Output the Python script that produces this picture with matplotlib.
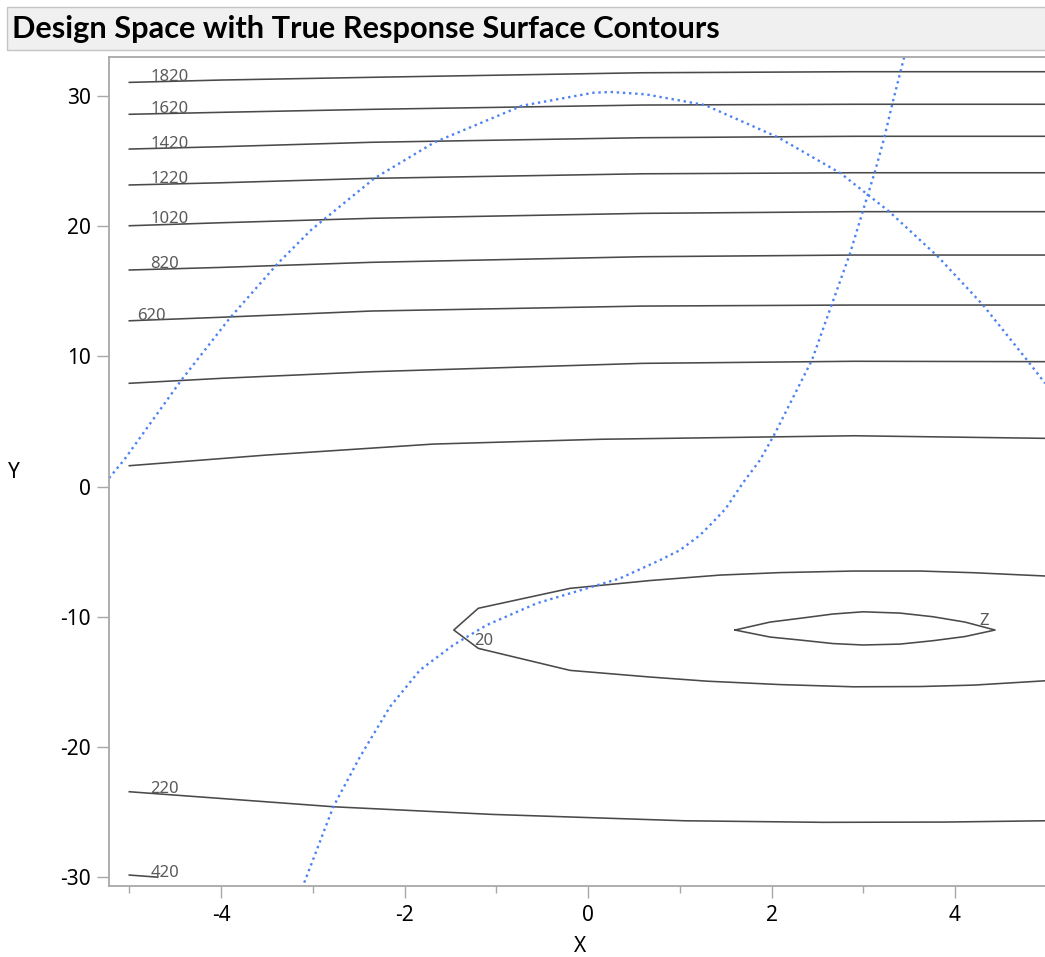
import matplotlib
matplotlib.use("Agg")
import matplotlib.pyplot as plt
from matplotlib.patches import Rectangle
from matplotlib.ticker import FixedLocator

plt.rcParams['font.family'] = ['Noto Sans', 'DejaVu Sans']
plt.rcParams['axes.unicode_minus'] = False

# ---------------- data ----------------
title = "Design Space with True Response Surface Contours"

# near-horizontal contour lines (x, y) per level
c1820_x = [-5.0, -4.0, -2.36, 0.59, 2.9, 5.0]
c1820_y = [31.04, 31.22, 31.43, 31.78, 31.86, 31.86]
c1620_x = [-5.0, -4.0, -2.36, 0.59, 2.9, 5.0]
c1620_y = [28.59, 28.74, 28.97, 29.30, 29.36, 29.36]
c1420_x = [-5.0, -4.0, -2.36, 0.59, 2.9, 5.0]
c1420_y = [25.92, 26.10, 26.44, 26.79, 26.90, 26.90]
c1220_x = [-5.0, -4.0, -2.36, 0.59, 2.9, 5.0]
c1220_y = [23.16, 23.33, 23.67, 24.02, 24.10, 24.10]
c1020_x = [-5.0, -4.0, -2.36, 0.59, 2.9, 5.0]
c1020_y = [20.03, 20.26, 20.60, 20.98, 21.11, 21.11]
c820_x = [-5.0, -4.0, -2.36, 0.59, 2.9, 5.0]
c820_y = [16.63, 16.83, 17.22, 17.65, 17.78, 17.78]
c620_x = [-5.0, -4.0, -2.36, 0.59, 2.9, 5.0]
c620_y = [12.73, 13.00, 13.48, 13.86, 13.94, 13.94]
c420_x = [-5.0, -4.0, -2.36, 0.59, 2.9, 5.0]
c420_y = [7.93, 8.31, 8.82, 9.46, 9.62, 9.59]
c220u_x = [-5.0, -3.5, -1.69, 0.13, 2.9, 5.0]
c220u_y = [1.60, 2.42, 3.26, 3.63, 3.90, 3.70]
c220l_x = [-5.0, -2.76, -1.05, 1.05, 2.56, 3.88, 4.98]
c220l_y = [-23.44, -24.60, -25.18, -25.67, -25.79, -25.77, -25.67]
c420l_x = [-5.0, -4.69]
c420l_y = [-29.84, -30.0]

# contour 20 (open at the right edge)
c20_x = [4.98, 4.207, 3.619, 2.894, 2.093, 1.439, 0.676, -0.196, -1.196, -1.463,
         -1.196, -0.196, 0.676, 1.30, 2.093, 2.894, 3.619, 4.207, 4.98]
c20_y = [-6.87, -6.62, -6.49, -6.49, -6.61, -6.80, -7.22, -7.82, -9.35, -11.02,
         -12.43, -14.12, -14.63, -14.95, -15.21, -15.38, -15.36, -15.25, -14.92]

# inner closed contour
cin_x = [1.602, 1.984, 2.311, 2.670, 2.997, 3.401, 3.760, 4.109, 4.436,
         4.109, 3.760, 3.401, 2.997, 2.670, 2.311, 1.984, 1.602]
cin_y = [-11.02, -10.41, -10.12, -9.79, -9.62, -9.72, -10.0, -10.41, -11.02,
         -11.52, -11.84, -12.10, -12.17, -12.06, -11.79, -11.56, -11.02]

# dotted boundary curves
bA_x = [-5.22, -5.057, -4.432, -3.906, -3.381, -3.019, -2.329, -1.673, -0.719,
        0.063, 0.26, 0.632, 1.275, 2.071, 2.753, 3.284, 3.815, 4.305, 4.799, 4.981]
bA_y = [0.65, 2.04, 8.18, 12.92, 17.14, 19.70, 23.67, 26.44, 29.25,
        30.25, 30.30, 30.12, 29.30, 26.82, 24.06, 21.11, 17.65, 13.94, 9.59, 7.93]
bB_x = [-3.117, -2.776, -2.485, -2.158, -1.831, -1.468, -1.104, -0.559, -0.014,
        0.349, 0.785, 1.003, 1.221, 1.330, 1.500, 1.680, 1.875, 2.038, 2.441,
        2.670, 2.856, 2.999, 3.132, 3.227, 3.322, 3.450]
bB_y = [-30.86, -24.59, -20.75, -16.91, -14.09, -12.17, -10.64, -8.97, -7.82,
        -7.05, -5.65, -4.88, -3.73, -2.96, -1.70, 0.20, 2.04, 4.09, 9.72,
        14.25, 17.91, 21.24, 24.31, 26.74, 29.55, 33.10]

# contour labels and their anchor positions (data coords)
label_text = ["1820", "1620", "1420", "1220", "1020", "820", "620", "20", "Z", "220", "420"]
label_x = [-4.766, -4.766, -4.766, -4.766, -4.766, -4.77, -4.918, -1.243, 4.26, -4.77, -4.77]
label_y = [31.14, 28.66, 26.0, 23.29, 20.22, 16.76, 12.79, -12.17, -10.64, -23.54, -29.99]

x_ticks = [-4, -2, 0, 2, 4]
y_ticks = [-30, -20, -10, 0, 10, 20, 30]

# ---------------- figure ----------------
W, H = 1045, 957
fig = plt.figure(figsize=(W / 100, H / 100), dpi=100)

# title bar
fig.patches.append(Rectangle((7 / W, 1 - 50 / H), 1.2, 43 / H, transform=fig.transFigure,
                             facecolor='#f0f0f0', edgecolor='#c4c4c4', lw=1.0))
t = fig.text(12 / W, 1 - 29 / H, title, ha='left', va='center', fontsize=20,
             fontweight='bold', color='black', family=['Lato', 'DejaVu Sans'])
fig.canvas.draw()
bb = t.get_window_extent()
t.set_fontsize(20 * 708 / bb.width)

left, right, top, bottom = 109, 1051, 57, 886
ax = fig.add_axes([left / W, 1 - bottom / H, (right - left) / W, (bottom - top) / H])
ax.set_xlim(-5.221, 5.046)
ax.set_ylim(-30.68, 32.99)

line_col = '#4a4a4a'
lines = [(c1820_x, c1820_y), (c1620_x, c1620_y), (c1420_x, c1420_y), (c1220_x, c1220_y),
         (c1020_x, c1020_y), (c820_x, c820_y), (c620_x, c620_y), (c420_x, c420_y),
         (c220u_x, c220u_y), (c220l_x, c220l_y), (c420l_x, c420l_y),
         (c20_x, c20_y), (cin_x, cin_y)]
for lx, ly in lines:
    ax.plot(lx, ly, color=line_col, lw=1.15, solid_joinstyle='round')

blue = '#4d82f2'
for bx, by in [(bA_x, bA_y), (bB_x, bB_y)]:
    ax.plot(bx, by, color=blue, lw=1.7, linestyle=(0, (1.0, 1.6)),
            dash_capstyle='butt')

for txt, lx, ly in zip(label_text, label_x, label_y):
    ax.text(lx, ly, txt, ha='left', va='baseline', fontsize=12, color='#5a5a5a')

# axes styling
frame_col = '#a8a8a8'
for s in ['left', 'bottom', 'top', 'right']:
    ax.spines[s].set_color(frame_col)
    ax.spines[s].set_linewidth(1.3)

ax.xaxis.set_major_locator(FixedLocator(x_ticks))
ax.xaxis.set_minor_locator(FixedLocator([-5, -3, -1, 1, 3, 5]))
ax.yaxis.set_major_locator(FixedLocator(y_ticks))
ax.set_xticklabels([str(v) for v in x_ticks])
ax.set_yticklabels([str(v) for v in y_ticks])
ax.tick_params(axis='both', which='major', length=8.6, width=1.0, color=frame_col,
               labelsize=15, labelcolor='black')
ax.tick_params(axis='x', which='major', pad=5)
ax.tick_params(axis='y', which='major', pad=4.5)
ax.tick_params(axis='x', which='minor', length=5, width=1.0, color=frame_col)

ax.set_xlabel('X', fontsize=15, color='black')
ax.xaxis.set_label_coords((580 - left) / (right - left), -(947 - bottom) / (bottom - top))
ax.xaxis.label.set_va('center')
ax.set_ylabel('Y', fontsize=15, color='black', rotation=0, ha='center', va='center')
ax.yaxis.set_label_coords((14 - left) / (right - left), (bottom - 473) / (bottom - top))

fig.savefig('out.png', dpi=100)
